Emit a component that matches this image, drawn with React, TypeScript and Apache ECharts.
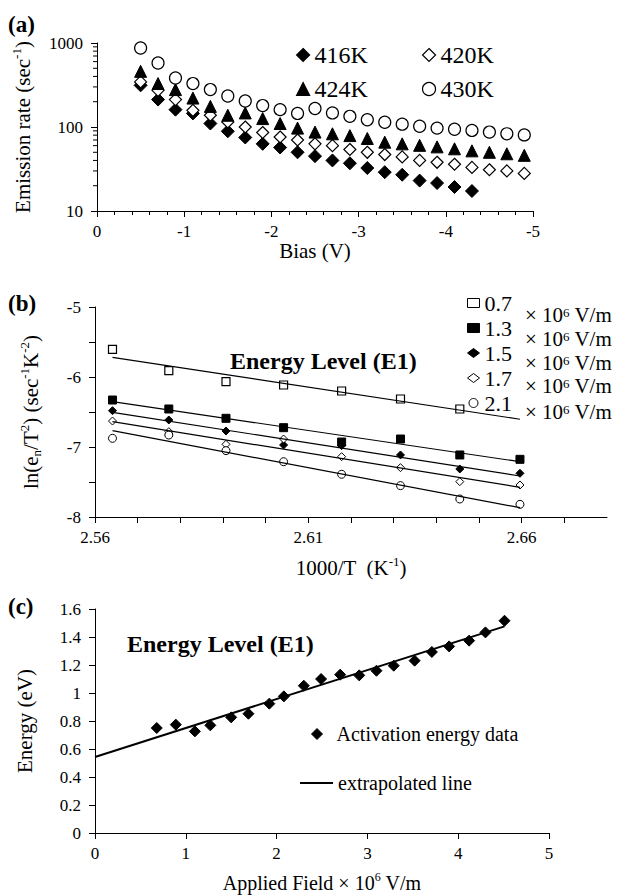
import React, { useEffect, useRef } from 'react';
import * as echarts from 'echarts';

const FONT = "'Liberation Serif', 'Times New Roman', serif";

// ---------- Panel (a): emission rate vs bias ----------
const biasV = [-0.5, -0.7, -0.9, -1.1, -1.3, -1.5, -1.7, -1.9, -2.1, -2.3, -2.5, -2.7, -2.9, -3.1, -3.3, -3.5, -3.7, -3.9, -4.1, -4.3, -4.5, -4.7, -4.9];
const rate416K = [313, 212, 161, 145, 110, 89, 75, 63, 57, 50, 45, 40, 37, 32.5, 29, 27, 23, 21.5, 19.3, 17.3];
const rate420K = [344, 273, 212, 158, 138, 115, 100, 86, 76, 70, 63, 60, 54, 50, 47, 44, 40, 38, 36, 33, 31, 30, 28];
const rate424K = [460, 329, 279, 221, 176, 138, 147, 126, 110, 97, 87, 83, 79, 73, 66, 63, 60.5, 58, 55, 52, 50, 48, 46];
const rate430K = [872, 578, 383, 329, 279, 234, 204, 180, 161, 145, 166, 147, 134, 122, 114, 108, 102, 97, 94, 91, 87, 83, 80.5];
const logMinorTicks = [20, 30, 40, 50, 60, 70, 80, 90, 200, 300, 400, 500, 600, 700, 800, 900];

// ---------- Panel (b): Arrhenius plot ----------
const invT = [2.5641, 2.5773, 2.5907, 2.6042, 2.6178, 2.6316, 2.6455, 2.6596];
const ln07 = [-5.604, -5.91, -6.067, -6.114, -6.2, -6.314, -6.457];
const ln13 = [-6.329, -6.457, -6.59, -6.724, -6.929, -6.886, -7.114, -7.176];
const ln15 = [-6.481, -6.614, -6.771, -6.971, -6.98, -7.114, -7.314, -7.376];
const ln17 = [-6.629, -6.781, -6.962, -6.886, -7.138, -7.295, -7.495, -7.543];
const ln21 = [-6.876, -6.829, -7.052, -7.21, -7.39, -7.552, -7.743, -7.819];
const fitX = [2.5641, 2.6596];
const fit07 = [-5.719, -6.604];
const fit13 = [-6.352, -7.21];
const fit15 = [-6.505, -7.414];
const fit17 = [-6.638, -7.576];
const fit21 = [-6.767, -7.867];
const fieldNames = ['0.7', '1.3', '1.5', '1.7', '2.1'];

// ---------- Panel (c): activation energy vs field ----------
const fieldX = [0.68, 0.89, 1.1, 1.27, 1.5, 1.69, 1.92, 2.08, 2.3, 2.49, 2.7, 2.91, 3.1, 3.29, 3.52, 3.71, 3.9, 4.12, 4.3, 4.51];
const energyY = [0.75, 0.774, 0.726, 0.769, 0.826, 0.852, 0.924, 0.976, 1.052, 1.1, 1.131, 1.126, 1.159, 1.195, 1.231, 1.293, 1.333, 1.374, 1.433, 1.516];
const extrapX = [0, 4.51];
const extrapY = [0.543, 1.476];

const zip = (xs: number[], ys: number[]) => ys.map((y, i) => [xs[i], y]);

const rich = (size: number, lh?: number) => ({
  n: { fontFamily: FONT, fontSize: size, color: '#000', lineHeight: lh ?? size + 4 },
  sup: { fontFamily: FONT, fontSize: Math.round(size * 0.62), color: '#000', verticalAlign: 'top', lineHeight: Math.round(size * 0.62) + 2 },
  sub: { fontFamily: FONT, fontSize: Math.round(size * 0.62), color: '#000', verticalAlign: 'bottom', lineHeight: Math.round(size * 0.62) + 2 },
});

const axisLine = { show: true, onZero: false, lineStyle: { color: '#000', width: 1 } };
const axisTick = { show: true, length: 6, lineStyle: { color: '#000', width: 1 } };
const axisLabel = { color: '#000', fontFamily: FONT, fontSize: 17 };

const open = { color: '#fff', borderColor: '#000', borderWidth: 1.2, opacity: 1 };
const filled = { color: '#000', borderColor: '#000', borderWidth: 1, opacity: 1 };

function buildOption(): any {
  const series: any[] = [];
  // (a)
  const aSets: [string, number[], string, any, number][] = [
    ['416K', rate416K, 'diamond', filled, 13],
    ['420K', rate420K, 'diamond', open, 12],
    ['424K', rate424K, 'triangle', filled, 12],
    ['430K', rate430K, 'circle', open, 12],
  ];
  aSets.forEach(([name, vals, sym, st, size]) => {
    series.push({
      name, type: 'scatter', xAxisIndex: 0, yAxisIndex: 0, symbol: sym, symbolSize: size,
      itemStyle: st, data: zip(biasV, vals),
    });
  });
  series.push({
    type: 'custom', xAxisIndex: 0, yAxisIndex: 0, silent: true, clip: false,
    data: logMinorTicks.map((v) => [0, v]),
    renderItem: (_p: any, api: any) => {
      const p = api.coord([0, api.value(1)]);
      return { type: 'line', shape: { x1: p[0] - 4, y1: p[1], x2: p[0], y2: p[1] }, style: { stroke: '#000', lineWidth: 1 } };
    },
  });
  // (b)
  const bSets: [string, number[], number[], string, any][] = [
    ['0.7', ln07, fit07, 'rect', open],
    ['1.3', ln13, fit13, 'rect', filled],
    ['1.5', ln15, fit15, 'diamond', filled],
    ['1.7', ln17, fit17, 'diamond', { ...open, borderWidth: 1 }],
    ['2.1', ln21, fit21, 'circle', { ...open, borderWidth: 1 }],
  ];
  bSets.forEach(([name, vals, fit, sym, st]) => {
    series.push({
      name, type: 'scatter', xAxisIndex: 1, yAxisIndex: 1, symbol: sym, symbolSize: 8,
      itemStyle: st, data: zip(invT, vals), z: 2,
    });
    series.push({
      type: 'line', xAxisIndex: 1, yAxisIndex: 1, symbol: 'none', silent: true, z: 3,
      lineStyle: { color: '#000', width: 1.2 }, data: zip(fitX, fit),
    });
  });
  // (c)
  series.push({
    name: 'Activation energy data', type: 'scatter', xAxisIndex: 2, yAxisIndex: 2,
    symbol: 'diamond', symbolSize: 11, itemStyle: filled, data: zip(fieldX, energyY), z: 3,
  });
  series.push({
    name: 'extrapolated line', type: 'line', xAxisIndex: 2, yAxisIndex: 2, symbol: 'none',
    lineStyle: { color: '#000', width: 2 }, itemStyle: { color: '#000' }, data: zip(extrapX, extrapY), z: 2,
  });

  const legendText = (size: number) => ({ fontFamily: FONT, fontSize: size, color: '#000', lineHeight: size });

  return {
    animation: false,
    backgroundColor: '#fff',
    grid: [
      { left: 97, top: 43, width: 436, height: 168, outerBoundsMode: 'none' },
      { left: 95, top: 307, width: 512, height: 210, outerBoundsMode: 'none' },
      { left: 95, top: 609, width: 454, height: 224, outerBoundsMode: 'none' },
    ],
    xAxis: [
      {
        gridIndex: 0, type: 'value', min: -5, max: 0, interval: 1, inverse: true,
        axisLine, axisTick, axisLabel: { ...axisLabel, margin: 12 },
        minorTick: { show: true, splitNumber: 5, length: 4, lineStyle: { color: '#000' } },
        splitLine: { show: false },
        name: 'Bias (V)', nameLocation: 'middle', nameGap: 27,
        nameTextStyle: { fontFamily: FONT, fontSize: 21, color: '#000' },
      },
      {
        gridIndex: 1, type: 'value', min: 2.56, max: 2.68, interval: 0.01,
        axisLine, axisTick, splitLine: { show: false },
        axisLabel: {
          ...axisLabel, margin: 12, showMaxLabel: false,
          formatter: (v: number) => {
            const k = Math.round(v * 100);
            return (k - 256) % 5 === 0 && k <= 266 ? (k / 100).toFixed(2) : '';
          },
        },
        name: '{n|1000/T  (K}{sup|-1}{n|)}', nameLocation: 'middle', nameGap: 38,
        nameTextStyle: { rich: rich(21) },
      },
      {
        gridIndex: 2, type: 'value', min: 0, max: 5, interval: 1,
        axisLine, axisTick, splitLine: { show: false }, axisLabel: { ...axisLabel, margin: 12 },
        name: '{n|Applied Field × 10}{sup|6}{n| V/m}', nameLocation: 'middle', nameGap: 38,
        nameTextStyle: { rich: rich(20) },
      },
    ],
    yAxis: [
      {
        gridIndex: 0, type: 'log', logBase: 10, min: 10, max: 1000,
        axisLine, axisTick, splitLine: { show: false }, minorTick: { show: false },
        axisLabel: { ...axisLabel, margin: 14, formatter: (v: number) => String(Math.round(v)) },
        name: '{n|Emission rate (sec}{sup|-1}{n|)}', nameLocation: 'middle', nameGap: 62,
        nameTextStyle: { rich: rich(21) },
      },
      {
        gridIndex: 1, type: 'value', min: -8, max: -5, interval: 0.5,
        axisLine, axisTick, splitLine: { show: false },
        axisLabel: { ...axisLabel, margin: 14, formatter: (v: number) => (Math.abs(v - Math.round(v)) < 1e-6 ? String(Math.round(v)) : '') },
        name: '{n|ln(e}{sub|n}{n|/T}{sup|2}{n|) (sec}{sup|-1}{n|K}{sup|-2}{n|)}', nameLocation: 'middle', nameGap: 52,
        nameTextStyle: { rich: rich(21) },
      },
      {
        gridIndex: 2, type: 'value', min: 0, max: 1.6, interval: 0.2,
        axisLine, axisTick, splitLine: { show: false }, axisLabel: { ...axisLabel, margin: 14 },
        name: 'Energy (eV)', nameLocation: 'middle', nameGap: 60,
        nameTextStyle: { fontFamily: FONT, fontSize: 21, color: '#000' },
      },
    ],
    legend: [
      {
        data: ['416K', '420K'], left: 296, top: 43, orient: 'horizontal', padding: 0,
        itemWidth: 13, itemHeight: 13, itemGap: 54, textStyle: legendText(24),
        itemStyle: { borderWidth: 1.2 },
      },
      {
        data: ['424K', '430K'], left: 296, top: 77, orient: 'horizontal', padding: 0,
        itemWidth: 13, itemHeight: 13, itemGap: 54, textStyle: legendText(24),
        itemStyle: { borderWidth: 1.2 },
      },
      {
        data: fieldNames, left: 467, top: 292, orient: 'vertical', padding: 0,
        itemWidth: 12, itemHeight: 9, itemGap: 3, textStyle: legendText(22),
        itemStyle: { borderWidth: 1 },
      },
      {
        data: ['Activation energy data'], left: 311, top: 724, orient: 'vertical', padding: 0,
        itemWidth: 11, itemHeight: 11, textStyle: { ...legendText(20), padding: [0, 0, 0, 9] },
        itemStyle: { borderWidth: 1 },
      },
      {
        data: [{ name: 'extrapolated line', icon: 'rect' }], left: 300, top: 773, orient: 'vertical', padding: 0,
        itemWidth: 33, itemHeight: 2, textStyle: legendText(20),
        itemStyle: { color: '#000', borderWidth: 0 },
      },
    ],
    graphic: [
      { type: 'text', left: 8, top: 13, style: { text: '(a)', font: `bold 23px ${FONT}`, fill: '#000' } },
      { type: 'text', left: 8, top: 292, style: { text: '(b)', font: `bold 23px ${FONT}`, fill: '#000' } },
      { type: 'text', left: 8, top: 595, style: { text: '(c)', font: `bold 23px ${FONT}`, fill: '#000' } },
      { type: 'text', left: 230, top: 349, style: { text: 'Energy Level (E1)', font: `bold 24px ${FONT}`, fill: '#000' } },
      { type: 'text', left: 127, top: 632, style: { text: 'Energy Level (E1)', font: `bold 24px ${FONT}`, fill: '#000' } },
      ...[313, 337, 361, 384, 410].map((cy) => ({
        type: 'text', left: 525, top: cy - 9,
        style: { text: '{n|× 10}{sup|6}{n| V/m}', rich: rich(21, 17) },
      })),
    ],
    series,
  };
}

export default function App() {
  const ref = useRef<HTMLDivElement>(null);
  useEffect(() => {
    document.body.style.margin = '0';
    const chart = echarts.init(ref.current!, null, { renderer: 'svg' });
    chart.setOption(buildOption());
    return () => chart.dispose();
  }, []);
  return <div ref={ref} style={{ width: 626, height: 895 }} />;
}
